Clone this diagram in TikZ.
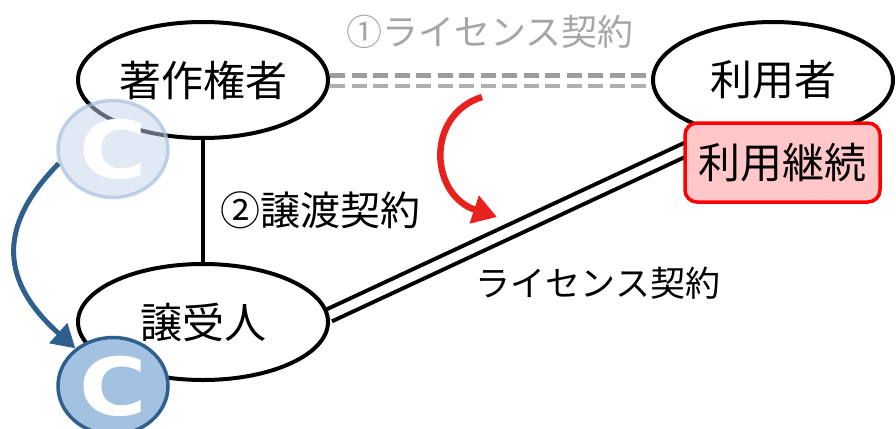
\documentclass[tikz,border=0pt]{standalone}
\usepackage{fontspec}
\usetikzlibrary{shapes.geometric,arrows.meta,backgrounds}
\newfontfamily\jp{Noto Sans CJK JP}
\newfontfamily\cfont{DejaVu Sans}
\definecolor{dashA}{HTML}{9C9C9C}
\definecolor{dashB}{HTML}{B0B0B0}
\definecolor{grayTxt}{HTML}{A6A6A6}
\definecolor{redArr}{HTML}{E8201E}
\definecolor{boxFill}{HTML}{FFC7C7}
\definecolor{blueLine}{HTML}{2F5F8F}
\definecolor{blueFill}{HTML}{A3C1E0}
\definecolor{fadeFill}{HTML}{C3D5EA}
\definecolor{fadeLine}{HTML}{A9C1DD}
\begin{document}
\begin{tikzpicture}[x=1pt,y=-1pt,
  ell/.style={ellipse, draw=black, line width=4pt, fill=white, inner sep=0pt,
    minimum width=250pt, minimum height=116pt, font=\jp\fontsize{42}{42}\selectfont},
  lbl/.style={inner sep=0pt, font=\jp\fontsize{#1}{#1}\selectfont},
  cmark/.style={ellipse, inner sep=0pt, minimum width=110pt, minimum height=97pt,
    line width=3.5pt},
  ctext/.style={inner sep=0pt, text=white, text height=58pt, text depth=0pt,
    font=\cfont\bfseries\fontsize{80}{80}\selectfont},
  redbox/.style={draw=red, line width=3.5pt, fill=boxFill, rounded corners=12pt,
    minimum width=195pt, minimum height=79pt, inner sep=0pt,
    font=\jp\fontsize{42}{42}\selectfont},
  redarrow/.style={draw=redArr, line width=6.5pt, -{Triangle[width=28pt,length=24pt]}},
  bluearrow/.style={draw=blueLine, line width=5pt, -{Triangle[width=26pt,length=23pt]}},
  dashU/.style={draw=dashA, line width=5pt, dash pattern=on 15pt off 6.5pt},
  dashL/.style={draw=dashB, line width=4pt, dash pattern=on 15pt off 6.5pt},
  dbl/.style={draw=black, line width=4pt, double=white, double distance=9pt},
]
\useasboundingbox (0,0) rectangle (896,428);
\clip (0,0) rectangle (896,428);

\node[ell] (owner) at (203,80) {著作権者};
\node[ell, minimum width=240pt] (user) at (773,80) {利用者};
\node[ell] (jyu) at (203,322) {譲受人};

\begin{scope}[on background layer]
  \draw[dashU] ([yshift=5pt]owner.east) -- ([yshift=5pt]user.west);
  \draw[dashL] ([yshift=-6pt]owner.east) -- ([yshift=-6pt]user.west);
  \draw[line width=3.5pt] (owner.south) -- (jyu.north);
  \draw[dbl] (jyu.3) -- (user.225);
\end{scope}

\node[redbox] (keizoku) at (782.5,162.5) {利用継続};

\node[lbl=36, text=grayTxt] (lic1) at (490,32) {①ライセンス契約};
\node[lbl=40] (joto) at (320,210) {②譲渡契約};
\node[lbl=35] (lic2) at (598,283) {ライセンス契約};

\node[cmark, draw=fadeLine, fill=fadeFill, fill opacity=0.5, draw opacity=0.7] (cTop) at (113,149) {};
\node[ctext] (cTopTxt) at (cTop.center) {\scalebox{1.15}[1]{C}};
\node[cmark, draw=blueLine, fill=blueFill] (cBot) at (113,386) {};
\node[ctext] (cBotTxt) at (cBot.center) {\scalebox{1.15}[1]{C}};

\coordinate (ra1) at (482,97);
\coordinate (ra2) at (497,217);
\draw[redarrow] (ra1) .. controls (425,115) and (430,195) .. (ra2);
\draw[bluearrow] (cTop.195) .. controls (-12,235) and (10,290) .. (cBot.135);
\end{tikzpicture}
\end{document}
